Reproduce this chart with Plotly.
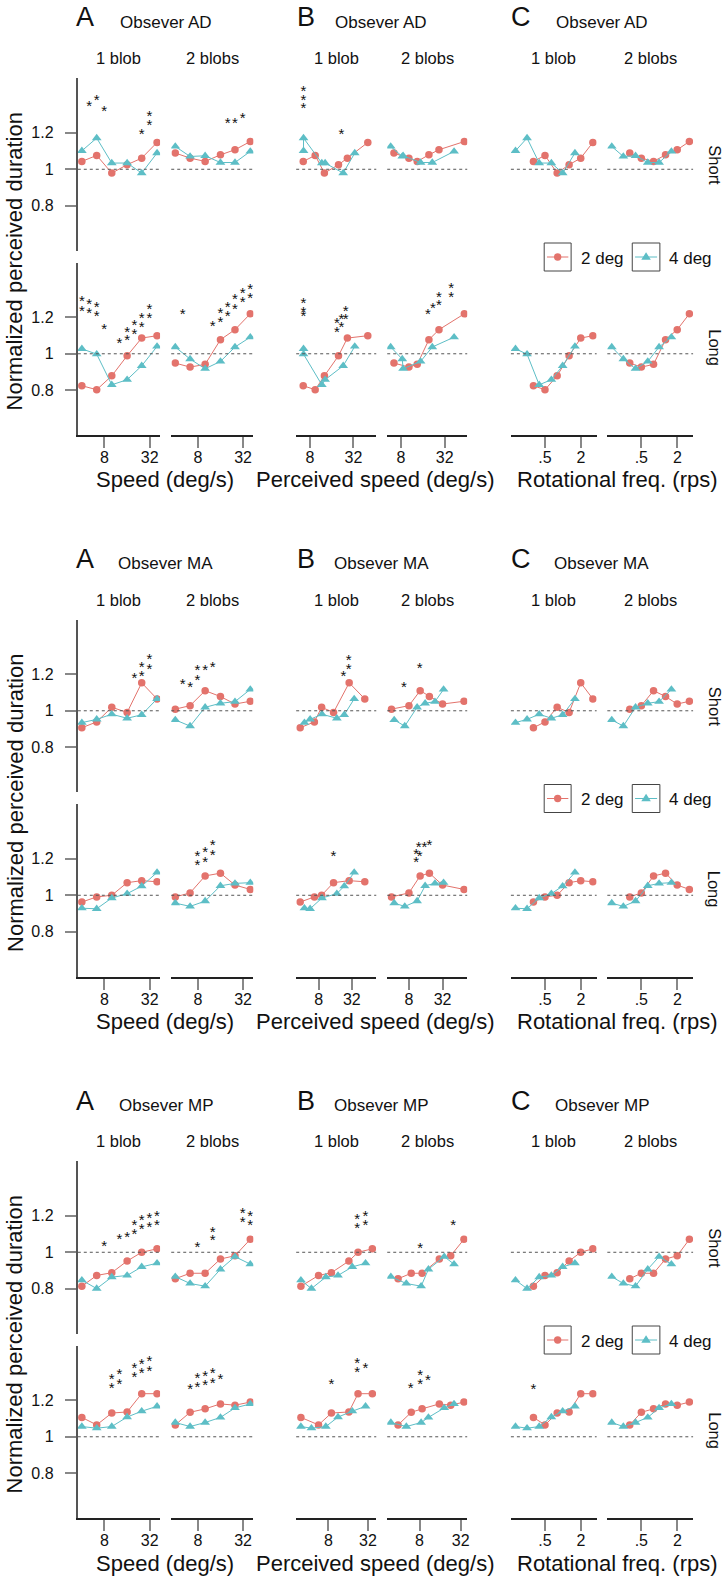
import math
import plotly.graph_objects as go

W, H = 727, 1589
RED = "#E3736C"
CYAN = "#5DBEC6"
FONT = "Liberation Sans, Arial, Helvetica, sans-serif"

# ---------------- data ----------------
OBSERVERS = ["AD", "MA", "MP"]
SPEED = [4, 6.3, 10, 16, 25, 40]                   # physical speed (deg/s)
ROT_2DEG = [0.32, 0.50, 0.80, 1.27, 1.99, 3.18]    # rotational freq (rps)
ROT_4DEG = [0.16, 0.25, 0.40, 0.64, 0.99, 1.59]

# perceived speeds (deg/s): observer, blobs, size
PERC_AD_1B_2DEG = [6.47, 9.47, 12.7, 19.9, 26.4, 50.6]
PERC_AD_1B_4DEG = [6.53, 6.53, 11.7, 13.0, 23.1, 33.4]
PERC_AD_2B_2DEG = [6.41, 10.3, 13.4, 19.4, 26.7, 59.7]
PERC_AD_2B_4DEG = [5.78, 8.34, 8.57, 14.9, 21.6, 43.1]
PERC_MA_1B_2DEG = [3.70, 6.70, 9.06, 14.9, 28.6, 54.9]
PERC_MA_1B_4DEG = [4.42, 5.60, 9.19, 17.1, 23.3, 35.3]
PERC_MA_2B_2DEG = [3.89, 8.0, 12.7, 18.6, 32.0, 77.7]
PERC_MA_2B_4DEG = [4.35, 6.73, 11.2, 15.6, 23.4, 33.4]
PERC_MP_1B_2DEG = [3.05, 5.66, 8.88, 16.4, 22.6, 37.3]
PERC_MP_1B_4DEG = [3.05, 4.41, 7.31, 11.2, 18.5, 29.4]
PERC_MP_2B_2DEG = [3.88, 6.05, 8.72, 15.6, 22.9, 35.8]
PERC_MP_2B_4DEG = [3.04, 5.12, 8.44, 10.8, 18.4, 25.6]

# normalized perceived duration: observer, duration (S/L), blobs, size
AD_S_1B_2DEG = [1.043, 1.076, 0.979, 1.025, 1.061, 1.147]
AD_S_1B_4DEG = [1.101, 1.171, 1.034, 1.034, 0.979, 1.089]
AD_S_2B_2DEG = [1.089, 1.061, 1.043, 1.079, 1.107, 1.152]
AD_S_2B_4DEG = [1.125, 1.070, 1.074, 1.037, 1.037, 1.098]
AD_L_1B_2DEG = [0.825, 0.803, 0.879, 0.989, 1.086, 1.099]
AD_L_1B_4DEG = [1.027, 0.998, 0.830, 0.858, 0.934, 1.040]
AD_L_2B_2DEG = [0.949, 0.927, 0.942, 1.077, 1.132, 1.219]
AD_L_2B_4DEG = [1.037, 0.971, 0.918, 0.958, 1.037, 1.091]

MA_S_1B_2DEG = [0.907, 0.939, 1.019, 0.991, 1.153, 1.065]
MA_S_1B_4DEG = [0.935, 0.953, 0.981, 0.959, 0.978, 1.065]
MA_S_2B_2DEG = [1.009, 1.028, 1.110, 1.078, 1.037, 1.052]
MA_S_2B_4DEG = [0.950, 0.916, 1.019, 1.041, 1.050, 1.117]
MA_L_1B_2DEG = [0.963, 0.991, 1.000, 1.069, 1.080, 1.074]
MA_L_1B_4DEG = [0.929, 0.926, 0.985, 1.009, 1.050, 1.125]
MA_L_2B_2DEG = [0.991, 1.013, 1.106, 1.121, 1.056, 1.032]
MA_L_2B_4DEG = [0.957, 0.939, 0.968, 1.052, 1.065, 1.069]

MP_S_1B_2DEG = [0.814, 0.873, 0.888, 0.952, 1.000, 1.019]
MP_S_1B_4DEG = [0.847, 0.801, 0.864, 0.873, 0.920, 0.940]
MP_S_2B_2DEG = [0.855, 0.885, 0.885, 0.963, 0.981, 1.071]
MP_S_2B_4DEG = [0.866, 0.829, 0.814, 0.907, 0.976, 0.935]
MP_L_1B_2DEG = [1.106, 1.065, 1.130, 1.136, 1.236, 1.236]
MP_L_1B_4DEG = [1.056, 1.047, 1.056, 1.108, 1.140, 1.167]
MP_L_2B_2DEG = [1.065, 1.134, 1.153, 1.180, 1.173, 1.190]
MP_L_2B_4DEG = [1.078, 1.056, 1.078, 1.106, 1.158, 1.180]

# significance asterisks: (x in panel units, y)
STARS_AD_A_1B_S = [(5.0, 1.381), (6.3, 1.414), (7.9, 1.353), (25, 1.229), (31.6, 1.326), (31.6, 1.277)]
STARS_AD_A_2B_S = [(20, 1.29), (25, 1.29), (31.6, 1.317)]
STARS_AD_A_1B_L = [(4, 1.323), (5.0, 1.309), (6.3, 1.292), (4, 1.268), (5.0, 1.259), (6.3, 1.241),
                   (7.9, 1.172), (12.6, 1.091), (16, 1.110), (16, 1.153), (20, 1.141), (20, 1.190),
                   (25, 1.183), (25, 1.232), (31.6, 1.232), (31.6, 1.281)]
STARS_AD_A_2B_L = [(5.0, 1.250), (12.6, 1.186), (16, 1.208), (16, 1.259), (20, 1.241), (20, 1.292),
                   (25, 1.281), (25, 1.336), (31.6, 1.318), (31.6, 1.365), (40, 1.342), (40, 1.387)]
STARS_AD_B_1B_S = [(6.5, 1.463), (6.5, 1.414), (6.5, 1.372), (21.9, 1.229)]
STARS_AD_B_1B_L = [(6.5, 1.314), (6.5, 1.263), (6.5, 1.241), (18.9, 1.153), (18.9, 1.201),
                   (21.9, 1.183), (21.9, 1.226), (25.1, 1.226), (25.1, 1.268)]
STARS_AD_B_2B_L = [(18.8, 1.254), (22.0, 1.287), (26.7, 1.301), (26.7, 1.347), (39.4, 1.345), (39.4, 1.393)]

STARS_MA_A_1B_S = [(20, 1.214), (25, 1.227), (25, 1.275), (31.6, 1.264), (31.6, 1.316)]
STARS_MA_A_2B_S = [(5.0, 1.182), (6.3, 1.164), (7.9, 1.205), (7.9, 1.255), (10, 1.260), (12.6, 1.273)]
STARS_MA_A_2B_L = [(7.9, 1.201), (7.9, 1.251), (10, 1.218), (10, 1.270), (12.6, 1.257), (12.6, 1.307)]
STARS_MA_B_1B_S = [(22.6, 1.227), (27.9, 1.264), (27.9, 1.313)]
STARS_MA_B_1B_L = [(14.9, 1.247)]
STARS_MA_B_2B_S = [(6.5, 1.162), (12.4, 1.27)]
STARS_MA_B_2B_L = [(10.8, 1.214), (10.8, 1.26), (12.4, 1.251), (12.0, 1.301), (15.1, 1.301), (18.6, 1.307)]

STARS_MP_A_1B_S = [(7.9, 1.071), (12.6, 1.108), (16, 1.117), (20, 1.136), (20, 1.186), (25, 1.162),
                   (25, 1.210), (31.6, 1.173), (31.6, 1.223), (40, 1.182), (40, 1.233)]
STARS_MP_A_2B_S = [(7.9, 1.065), (12.6, 1.099), (12.6, 1.145), (31.6, 1.199), (31.6, 1.247),
                   (40, 1.182), (40, 1.233)]
STARS_MP_A_1B_L = [(10, 1.301), (10, 1.350), (12.6, 1.326), (12.6, 1.376), (20, 1.363), (20, 1.413),
                   (25, 1.385), (25, 1.433), (31.6, 1.396), (31.6, 1.447)]
STARS_MP_A_2B_L = [(6.3, 1.298), (7.9, 1.307), (7.9, 1.357), (10, 1.320), (10, 1.368), (12.6, 1.331),
                   (12.6, 1.385), (16, 1.350)]
STARS_MP_B_1B_S = [(22.0, 1.218), (22.0, 1.167), (29.4, 1.233), (29.4, 1.182)]
STARS_MP_B_1B_L = [(8.9, 1.322), (22.0, 1.441), (22.0, 1.391), (29.4, 1.409)]
STARS_MP_B_2B_S = [(8.2, 1.06), (24.8, 1.182)]
STARS_MP_B_2B_L = [(5.93, 1.303), (8.2, 1.326), (8.2, 1.372), (10.6, 1.348)]
STARS_MP_C_1B_L = [(0.32, 1.294)]

XTICKS_SPEED = [8, 32]
XTICKTEXT_SPEED = ["8", "32"]
XTICKS_ROT = [0.5, 2]
XTICKTEXT_ROT = [".5", "2"]
YTICKS = [0.8, 1, 1.2]
YTICKTEXT = ["0.8", "1", "1.2"]

# ---------------- lookup helpers ----------------
G = globals()
def yvals(obs, dur, blobs, size):
    return G[f"{obs}_{dur}_{blobs}B_{size}DEG"]
def perc(obs, blobs, size):
    return G[f"PERC_{obs}_{blobs}B_{size}DEG"]
def stars(obs, col, blobs, dur):
    return G.get(f"STARS_{obs}_{col}_{blobs}B_{dur}", [])

# ---------------- layout geometry (pixels) ----------------
COL_X = [[(78, 160.5), (171.7, 254)], [(297, 377.3), (388.3, 468.5)], [(512.3, 598.3), (609, 695)]]
ROW_Y = [(78, 250.5), (262.5, 435)]
STRIDE = 541.5
Y_RANGE = [0.555, 1.5]
A_RANGE = [1.82, 5.455]  # log2 units
C_RANGE = [[-2.9, 1.88], [-2.89, 1.875]]
B_RANGE = {"AD": [[2.37, 6.05], [2.373, 6.03]],
           "MA": [[1.647, 6.47], [1.706, 6.47]],
           "MP": [[1.37, 5.42], [1.428, 5.32]]}
L2 = math.log10(2)

fig = go.Figure()
layout = dict(width=W, height=H, margin=dict(l=0, r=0, t=0, b=0),
              paper_bgcolor="white", plot_bgcolor="rgba(0,0,0,0)",
              showlegend=False, font=dict(family=FONT, color="#111"))
shapes = []
ann = []

def px(x):
    return x / W
def py(y):
    return 1 - y / H

def text(x, y, s, size, angle=0, xanchor="center"):
    ann.append(dict(x=px(x), y=py(y), xref="paper", yref="paper", text=s, showarrow=False,
                    font=dict(size=size, family=FONT, color="#111"), textangle=angle,
                    xanchor=xanchor, yanchor="middle"))

n = 0
for b, obs in enumerate(OBSERVERS):
    off = b * STRIDE
    for r, dur in enumerate(["S", "L"]):
        y0, y1 = ROW_Y[r]
        for c, col in enumerate(["A", "B", "C"]):
            for s in range(2):
                n += 1
                blobs = s + 1
                x0, x1 = COL_X[c][s]
                xn = "x" if n == 1 else f"x{n}"
                yn = "y" if n == 1 else f"y{n}"
                xa = "xaxis" if n == 1 else f"xaxis{n}"
                ya = "yaxis" if n == 1 else f"yaxis{n}"
                if c == 0:
                    rng = A_RANGE
                elif c == 1:
                    rng = B_RANGE[obs][s]
                else:
                    rng = C_RANGE[s]
                xcfg = dict(domain=[px(x0), px(x1)], anchor=yn, type="log",
                            range=[v * L2 for v in rng], showgrid=False, zeroline=False,
                            fixedrange=True)
                if r == 1:
                    tv = XTICKS_ROT if c == 2 else XTICKS_SPEED
                    tt = XTICKTEXT_ROT if c == 2 else XTICKTEXT_SPEED
                    xcfg.update(showline=True, linecolor="#222", linewidth=2, ticks="outside",
                                ticklen=11, tickwidth=1.5, tickcolor="#888", tickvals=tv,
                                ticktext=tt, ticklabelstandoff=-4,
                                tickfont=dict(size=16, family=FONT, color="#111"))
                else:
                    xcfg.update(showline=False, ticks="", showticklabels=False)
                ycfg = dict(domain=[py(y1 + off), py(y0 + off)], anchor=xn, range=Y_RANGE,
                            showgrid=False, zeroline=False, fixedrange=True)
                if c == 0 and s == 0:
                    ycfg.update(showline=True, linecolor="#555", linewidth=2, ticks="outside",
                                ticklen=11, tickwidth=1.5, tickcolor="#888", tickvals=YTICKS,
                                ticktext=YTICKTEXT, ticklabelstandoff=8,
                                tickfont=dict(size=16, family=FONT, color="#111"))
                else:
                    ycfg.update(showline=False, ticks="", showticklabels=False)
                layout[xa] = xcfg
                layout[ya] = ycfg

                shapes.append(dict(type="line", xref=f"{xn} domain", yref=yn, x0=0, x1=1,
                                   y0=1, y1=1, line=dict(color="#555", width=1, dash="3px,3px")))

                for size, color, sym, msize in [("2", RED, "circle", 7.5), ("4", CYAN, "triangle-up", 8.5)]:
                    if c == 0:
                        xs = SPEED
                    elif c == 1:
                        xs = perc(obs, blobs, size)
                    else:
                        xs = ROT_2DEG if size == "2" else ROT_4DEG
                    fig.add_trace(go.Scatter(
                        x=xs, y=yvals(obs, dur, blobs, size), xaxis=xn, yaxis=yn,
                        mode="lines+markers", line=dict(color=color, width=1),
                        marker=dict(symbol=sym, size=msize, color=color, line=dict(width=0)),
                        hoverinfo="skip"))
                st = stars(obs, col, blobs, dur)
                if st:
                    fig.add_trace(go.Scatter(
                        x=[p[0] for p in st], y=[p[1] for p in st], xaxis=xn, yaxis=yn,
                        mode="text", text=["*"] * len(st), textposition="bottom center",
                        textfont=dict(size=15, family=FONT, color="#111"), hoverinfo="skip"))

    # texts for the block
    for c, (letter, lx, tx) in enumerate([("A", 85, 166), ("B", 306.5, 382.5), ("C", 522.3, 603.3)]):
        text(lx, 17.5 + off, letter, 27)
        text(tx, 22 + off, f"Obsever {obs}", 17)
        for s, lab in enumerate(["1 blob", "2 blobs"]):
            x0, x1 = COL_X[c][s]
            text((x0 + x1) / 2, 58.3 + off, lab, 16.5)
    text(165, 480 + off, "Speed (deg/s)", 22)
    text(376, 480 + off, "Perceived speed (deg/s)", 22)
    text(619, 480 + off, "Rotational freq. (rps)", 22)
    text(15, 261.5 + off, "Normalized perceived duration", 22, angle=-90)
    text(716.7, 165 + off, "Short", 16.5, angle=90)
    text(716.7, 348 + off, "Long", 16.5, angle=90)

    # legend boxes
    cy = 257 + off
    for bx0, bx1, color, kind, lab in [(545.7, 572.7, RED, "c", "2 deg"), (634, 661.7, CYAN, "t", "4 deg")]:
        shapes.append(dict(type="rect", xref="paper", yref="paper", x0=px(bx0), x1=px(bx1),
                           y0=py(cy + 14), y1=py(cy - 14), line=dict(color="#444", width=1)))
        shapes.append(dict(type="line", xref="paper", yref="paper", x0=px(bx0 + 2.8), x1=px(bx1 - 2.8),
                           y0=py(cy), y1=py(cy), line=dict(color=color, width=1)))
        mx = (bx0 + bx1) / 2
        if kind == "c":
            shapes.append(dict(type="circle", xref="paper", yref="paper", x0=px(mx - 3.7), x1=px(mx + 3.7),
                               y0=py(cy + 3.7), y1=py(cy - 3.7), fillcolor=color, line=dict(width=0)))
        else:
            path = (f"M {px(mx - 4.8)},{py(cy + 2.8)} L {px(mx + 4.8)},{py(cy + 2.8)} "
                    f"L {px(mx)},{py(cy - 4.8)} Z")
            shapes.append(dict(type="path", xref="paper", yref="paper", path=path, fillcolor=color,
                               line=dict(width=0)))
        text(bx1 + 7.5, cy + 1, lab, 17, xanchor="left")

layout["shapes"] = shapes
layout["annotations"] = ann
fig.update_layout(**layout)
fig.write_html("out.html", config={"displayModeBar": False},
               post_script="document.body.style.margin='0';document.body.style.overflow='hidden';")
